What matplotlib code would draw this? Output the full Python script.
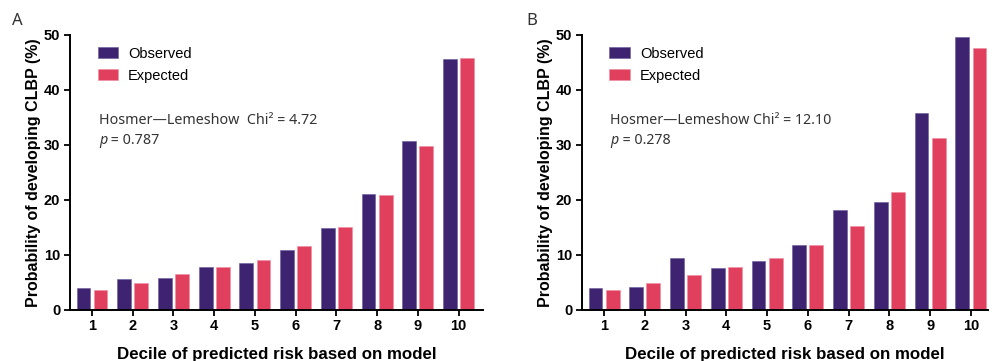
import matplotlib
matplotlib.use("Agg")
import matplotlib.pyplot as plt
import numpy as np

deciles = [1, 2, 3, 4, 5, 6, 7, 8, 9, 10]

observed_a = [4.0, 5.5, 5.8, 7.8, 8.4, 10.8, 14.8, 21.1, 30.7, 45.6]
expected_a = [3.5, 4.9, 6.4, 7.8, 9.1, 11.5, 15.0, 20.8, 29.7, 45.8]

observed_b = [3.95, 4.1, 9.3, 7.5, 8.75, 11.7, 18.2, 19.6, 35.8, 49.7]
expected_b = [3.5, 4.9, 6.3, 7.8, 9.3, 11.7, 15.3, 21.4, 31.3, 47.6]

chi_a, p_a = "4.72", "0.787"
chi_b, p_b = "12.10", "0.278"

OBS_COLOR = "#3d2370"
EXP_COLOR = "#e0405e"

W, H = 997, 361
fig = plt.figure(figsize=(W / 100, H / 100), dpi=100)


def px_axes(left, right, bottom, top):
    return fig.add_axes([left / W, 1 - bottom / H, (right - left) / W, (bottom - top) / H])


def draw_panel(ax, obs, exp, chi, pval, xmax, chi_gap, letter, letter_x, note_size):
    x = np.array(deciles, dtype=float)
    w = 0.34
    ax.bar(x - 0.21, obs, width=w, color=OBS_COLOR, edgecolor="#6a5a9a", linewidth=0.4,
           label="Observed")
    ax.bar(x + 0.21, exp, width=w, color=EXP_COLOR, edgecolor="#f08aa0", linewidth=0.4,
           label="Expected")
    ax.set_xlim(0.46, xmax)
    ax.set_ylim(0, 50)
    ax.set_xticks(deciles)
    ax.set_yticks([0, 10, 20, 30, 40, 50])
    for s in ("top", "right"):
        ax.spines[s].set_visible(False)
    for s in ("left", "bottom"):
        ax.spines[s].set_linewidth(1.4)
    ax.tick_params(axis="both", direction="out", length=4, width=1.3, pad=3)
    for lab in ax.get_xticklabels() + ax.get_yticklabels():
        lab.set_fontfamily("Liberation Sans")
        lab.set_fontweight("bold")
        lab.set_fontsize(10.5)
    ax.set_ylabel("Probability of developing CLBP (%)", family="Liberation Sans",
                  fontweight="bold", fontsize=11.5, labelpad=2)
    ax.set_xlabel("Decile of predicted risk based on model", family="Liberation Sans",
                  fontweight="bold", fontsize=12.2, labelpad=10)
    ax.legend(loc="upper left", bbox_to_anchor=(0.035, 1.005), frameon=False,
              prop={"family": "Liberation Sans", "size": 10.5},
              handlelength=1.4, handleheight=0.75, handletextpad=0.7,
              labelspacing=0.55)
    ax.text(0.07, 0.69, f"Hosmer\u2014Lemeshow{chi_gap}Chi\u00b2 = {chi}",
            transform=ax.transAxes, family="Noto Sans", fontsize=note_size,
            color="#333333", va="center", ha="left")
    tp = ax.text(0.07, 0.615, "p", transform=ax.transAxes, family="Noto Sans",
                 style="italic", fontsize=note_size, color="#333333", va="center", ha="left")
    ax.annotate(f" = {pval}", xy=(1, 0.5), xycoords=tp, va="center", ha="left",
                family="Noto Sans", fontsize=note_size, color="#333333")
    fig.text(letter_x / W, 1 - 21 / H, letter, family="Noto Sans", fontsize=12,
             fontweight="light", color="#333333", va="center", ha="left")


ax_a = px_axes(70, 483, 309.5, 35)
draw_panel(ax_a, observed_a, expected_a, chi_a, p_a, 10.6, "  ", "A", 12, 10.3)

ax_b = px_axes(582, 988, 309.5, 35)
draw_panel(ax_b, observed_b, expected_b, chi_b, p_b, 10.42, " ", "B", 526, 10.2)

fig.savefig("out.png", dpi=100, facecolor="white")
